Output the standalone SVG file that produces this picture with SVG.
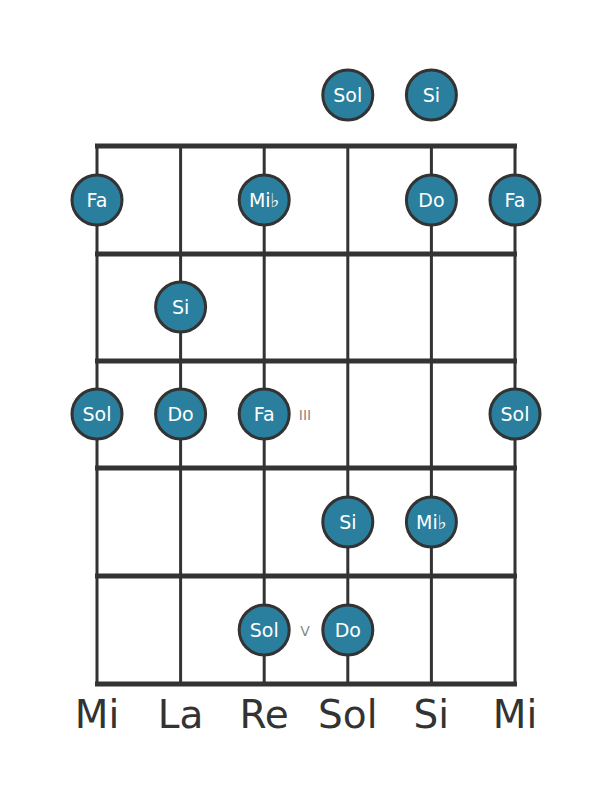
<svg xmlns="http://www.w3.org/2000/svg" width="611" height="801" viewBox="0 0 611 801">
<style>
.fret{stroke:#333;stroke-width:5;fill:none}
.str{stroke:#333;stroke-width:3;fill:none}
.note circle{fill:#2a7f9e;stroke:#333;stroke-width:3}
.note text{fill:#fff;font-family:"DejaVu Sans",sans-serif;font-size:19px;text-anchor:middle;dominant-baseline:central}
.mark{fill:#888;font-family:"DejaVu Sans",sans-serif;font-size:14px;text-anchor:middle;dominant-baseline:central}
.lbl{fill:#333;font-family:"DejaVu Sans",sans-serif;font-size:39px;text-anchor:middle}
</style>
<rect width="611" height="801" fill="#fff"/>
<g id="connectors">
<line class="str" x1="97" y1="146" x2="97" y2="684"/>
<line class="str" x1="180.6" y1="146" x2="180.6" y2="684"/>
<line class="str" x1="264.2" y1="146" x2="264.2" y2="684"/>
<line class="str" x1="347.8" y1="146" x2="347.8" y2="684"/>
<line class="str" x1="431.4" y1="146" x2="431.4" y2="684"/>
<line class="str" x1="515" y1="146" x2="515" y2="684"/>
<line class="fret" x1="95" y1="146" x2="517" y2="146"/>
<line class="fret" x1="95" y1="254" x2="517" y2="254"/>
<line class="fret" x1="95" y1="361" x2="517" y2="361"/>
<line class="fret" x1="95" y1="468" x2="517" y2="468"/>
<line class="fret" x1="95" y1="576" x2="517" y2="576"/>
<line class="fret" x1="95" y1="684" x2="517" y2="684"/>
</g>
<text class="mark" x="305" y="415">III</text>
<text class="mark" x="305" y="631">V</text>
<g id="n-open-sol" class="note"><circle cx="347.8" cy="95" r="25"/><text x="347.8" y="95">Sol</text></g>
<g id="n-open-si" class="note"><circle cx="431.4" cy="95" r="25"/><text x="431.4" y="95">Si</text></g>
<g id="n1-fa6" class="note"><circle cx="97" cy="200" r="25"/><text x="97" y="200">Fa</text></g>
<g id="n1-mib" class="note"><circle cx="264.2" cy="200" r="25"/><text x="264.2" y="200">Mi♭</text></g>
<g id="n1-do" class="note"><circle cx="431.4" cy="200" r="25"/><text x="431.4" y="200">Do</text></g>
<g id="n1-fa1" class="note"><circle cx="515" cy="200" r="25"/><text x="515" y="200">Fa</text></g>
<g id="n2-si" class="note"><circle cx="180.6" cy="307" r="25"/><text x="180.6" y="307">Si</text></g>
<g id="n3-sol6" class="note"><circle cx="97" cy="414" r="25"/><text x="97" y="414">Sol</text></g>
<g id="n3-do" class="note"><circle cx="180.6" cy="414" r="25"/><text x="180.6" y="414">Do</text></g>
<g id="n3-fa" class="note"><circle cx="264.2" cy="414" r="25"/><text x="264.2" y="414">Fa</text></g>
<g id="n3-sol1" class="note"><circle cx="515" cy="414" r="25"/><text x="515" y="414">Sol</text></g>
<g id="n4-si" class="note"><circle cx="347.8" cy="522" r="25"/><text x="347.8" y="522">Si</text></g>
<g id="n4-mib" class="note"><circle cx="431.4" cy="522" r="25"/><text x="431.4" y="522">Mi♭</text></g>
<g id="n5-sol" class="note"><circle cx="264.2" cy="630" r="25"/><text x="264.2" y="630">Sol</text></g>
<g id="n5-do" class="note"><circle cx="347.8" cy="630" r="25"/><text x="347.8" y="630">Do</text></g>
<g id="labels">
<text class="lbl" x="97" y="728">Mi</text>
<text class="lbl" x="180.6" y="728">La</text>
<text class="lbl" x="264.2" y="728">Re</text>
<text class="lbl" x="347.8" y="728">Sol</text>
<text class="lbl" x="431.4" y="728">Si</text>
<text class="lbl" x="515" y="728">Mi</text>
</g>
</svg>
